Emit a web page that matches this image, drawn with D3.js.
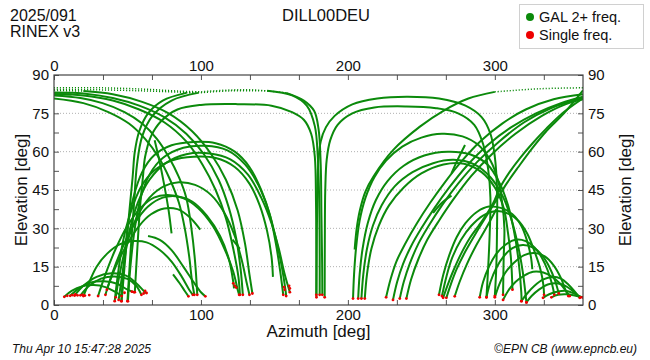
<!DOCTYPE html>
<html><head><meta charset="utf-8">
<script src="https://cdn.jsdelivr.net/npm/d3@7/dist/d3.min.js"></script>
<style>body{margin:0;background:#fff}text{font-family:"Liberation Sans",Arial,sans-serif;fill:#111}</style>
</head><body><svg id="c" width="650" height="360"></svg>
<script>
// ---- data: [azimuth deg, elevation deg] samples of each satellite pass ----
const azLabels = [0, 100, 200, 300];
const azMinorStep = 100 / 3;
const elLabels = [0, 15, 30, 45, 60, 75, 90];
const elMinorStep = 7.5;
const gridEl = [15, 30, 45, 60, 75];

const tracksEast = [
  [[0,85],[30,85],[60,84.5],[85,83.7],[100,83.4]],
  [[0,84.3],[30,84.2],[60,83.8],[85,83.3],[95,83.1]],
  [[46,1.5],[48,15],[51,35],[53.5,50],[55,60],[58,68],[64,75],[74,80],[90,83],[115,84],[135,84.2],[158,83],[170,80],[177,76],[180,69],[181.5,55],[182,35],[182.5,15],[182.6,4]],
  [[50,1.5],[52,20],[54.5,40],[56.5,55],[60,66],[67,74],[80,80],[98,83],[120,83.8],[145,83.8],[162,82],[172,78],[177.5,70],[179.5,58],[180.5,40],[180.8,20],[180.8,4]],
  [[55,5],[56.5,20],[58.5,38],[60.5,50],[62,58],[66,66],[73,72],[84,76.5],[100,78.3],[125,78.6],[148,78],[162,75.5],[170,72.5],[175,67],[177.5,58],[178.3,40],[178.5,20],[178.5,4]],
  [[0,83.2],[20,82.8],[40,81],[58,78],[75,73.5],[90,67],[102,59],[112,49],[119,38],[124,26],[127,14],[128.5,4]],
  [[0,82.6],[20,82],[40,80],[58,76.5],[75,71.5],[90,64],[101,55],[110,45],[117,34],[122,22],[125.5,11],[126.5,4]],
  [[0,84],[20,83.7],[40,82.5],[60,79.5],[78,75],[94,68],[107,59],[117,49],[125,37],[130,24],[133,12],[135,4.5]],
  [[0,82],[18,81],[33,79],[48,75.5],[60,71],[70,65],[78,58],[85,50],[90,42],[93.5,30],[96,17],[97.5,4]],
  [[0,82.2],[6,82.5],[12,82.4]],
  [[0,80.8],[20,79],[37,75.5],[51,71],[62,65],[71,58],[79,49],[85,40],[89,30],[92,19],[94,9],[95.5,4]],
  [[45.8,1.5],[47.5,15],[50,30],[54,42],[60,52],[68,58.5],[80,62.5],[95,63.8],[110,63.3],[123,60],[133,54],[141,45],[147,35],[151,24],[154,13],[156,4]],
  [[50.3,1.5],[52,15],[55,30],[59,42],[65,51],[74,57.5],[88,61.5],[103,62.3],[118,60.5],[130,55],[139,47],[146,37],[151,26],[155,15],[157.5,6],[158,3.5]],
  [[41.3,1.5],[43.5,12],[47,25],[52,36],[59,46],[68,52.5],[80,56.5],[95,58],[110,57.5],[123,54],[133,47.5],[140,39],[145,29],[148,19],[149,11]],
  [[44,2],[47,14],[51,28],[57,40],[65,49],[76,55.5],[90,59],[106,59.3],[120,57],[132,51],[141,42],[148,32],[153,22],[157,12],[160.5,5]],
  [[42,3],[45,13],[50,25],[57,35],[65,42],[75,46.5],[85,48],[96,47],[107,43],[116,36],[123,27],[128,17],[131,9],[133,4]],
  [[30,3.5],[35,12],[42,22],[50,31],[59,38],[68,42],[77,43],[87,42],[98,38],[108,31],[116,22],[122,13],[125,6],[126,4]],
  [[35,4],[40,13],[47,23],[55,32],[64,38.5],[74,42],[84,42.5],[94,40.5],[104,35],[113,27],[119,18],[122,9],[122.5,6.5]],
  [[36,6],[42,15],[50,24],[58,31],[66,35.5],[75,37.8],[84,37.5],[92,34.5],[99.5,29.5]],
  [[20,3.5],[24,9],[29,15],[36,20],[45,23.8],[54,25],[63,24.5],[72,21.5],[80,17],[87,11],[92,6],[94.5,4]],
  [[64,27],[72,25.5],[80,21.5],[88,15],[95,9],[100,5],[103,3.4]],
  [[81,12],[85.5,8.5],[89,5.5],[91.5,3.4]],
  [[68.5,64.5],[71.5,57],[75,47],[78,37],[80,28]],
  [[121.5,25.6],[124,23.8],[126.5,22]],
  [[7,3.2],[12,5.5],[19,7.3],[27,7.8],[35,7],[42,5],[46,3.5]],
  [[11,3.6],[17,6.5],[25,8.8],[34,9.3],[43,8.3],[50,6],[54.5,5]],
  [[14,3.7],[20,7.5],[29,11],[39,12.4],[49,11.5],[56,8.5],[62,5],[63,4.7]],
  [[18,3.8],[24,7.5],[32,10.3],[41,11.2],[50,10.2],[56,7.5],[59.5,4]]
];

const tracksWest = [
  [[178.6,3],[178.8,20],[179.1,40],[179.8,55],[181.5,64],[185,69.5],[191,74],[203,78.5],[220,80.8],[240,81.5],[262,80.8],[280,78],[291,73.5],[297,67],[300,58],[301.5,45],[301.5,30],[301,15],[300,3.5]],
  [[184.2,3],[184.3,25],[184.6,45],[185.6,57],[188,64.5],[193,70.5],[203,75],[218,77.3],[240,77.7],[260,77],[275,75],[286,70.5],[292,63],[295.5,53],[297,42],[296.5,28],[295.5,15],[294.3,3]],
  [[204.6,21.7],[206,30],[208.2,37.2],[212,44.5],[217.3,50.2],[230.9,60.7],[249,69.8],[265,76],[282,80.8],[300,83.4],[330,84.6],[360,85]],
  [[203.5,2.5],[204.2,12],[205.5,22],[208,33],[212,42],[218,50],[226,56.5],[237,62],[250,65.5],[264,67],[278,66],[289,62.5],[297,56.5],[302,49],[305,40],[306.5,30],[306,18],[305.6,4]],
  [[207,2.5],[208,12],[210,22],[213.5,32],[219,41],[227,48.5],[238,54.5],[252,58.5],[268,60],[283,59],[295,55],[303,48],[309,39],[313,29],[316,18],[318,5],[318.2,1.5]],
  [[209.2,2.5],[210.5,12],[213,22],[217,31],[223,39],[232,46.5],[244,52],[258,55.5],[272,56.8],[286,55],[297,50],[305,43],[311,34],[315.5,24],[319,13],[321.5,1]],
  [[211.5,2.5],[213,12],[216,22],[221,31],[228,39],[238,46],[250,51.5],[265,55],[279,55.3],[291,52],[300,46],[306,38],[309,28],[311,18],[312,6]],
  [[226,3],[229,10],[233,17],[239,24],[247,32],[256,40],[266,48],[277,56],[290,64],[305,71],[321,76.5],[340,80.5],[360,82.5]],
  [[230.7,2],[233.5,9],[237.5,16],[243,23],[250,30],[259,38],[269,46],[281,54.5],[295,62.5],[311,69.5],[328,75],[345,79],[360,81.5]],
  [[235.3,2.5],[238,9],[242,16],[248,24],[255,31],[264,39],[275,47.5],[288,56],[303,64],[320,71.5],[338,77],[360,81]],
  [[239.8,2.5],[243,10],[248,18],[254,25.5],[262,33],[272,41.5],[284,50.5],[298,59],[314,67],[332,74],[348,78.5],[360,80.5]],
  [[264.8,2.8],[268,8],[271.6,13.2],[277,20],[283,26.2],[289,31],[294.3,35.4],[299,40],[303.4,45.8],[310,52],[317,57.4],[326,63.5],[335,69],[347,75.5],[360,80.9]],
  [[267,2.8],[270,8],[274,14],[280,21],[287,28],[294,34.5],[301,41],[308,47.5],[316,54],[325,61],[335,68],[347,75],[360,84]],
  [[272.7,3.4],[276,9],[281,16],[287,23],[294,30],[301,37.5]],
  [[270.5,51.5],[274,56],[279.7,62.6]],
  [[258,36],[264,40],[270.5,42.8]],
  [[262,4],[265,12],[269,19.5],[274,26.5],[280,32],[288,36.5],[296,38.5],[304,38],[312,35.5],[318,31],[322,25],[324.5,19],[325.5,14]],
  [[264,3.5],[267,11],[271,18.5],[277,25.5],[284,31],[292,35],[300,36.7],[308,36],[316,33],[322,28],[327,21],[331,14],[333,8],[333.5,4]],
  [[289.7,3],[292,9],[296,15],[301,20],[307,23.5],[314,25.5],[321,25],[327,22.5],[332,18.5],[336,13.5],[339,8],[340.5,4]],
  [[294.3,3],[297,9],[301,14.5],[306,19],[312,22.3],[319,23.5],[326,22.5],[332,19.5],[337,15],[341,9.5],[343.5,4.5]],
  [[300,3],[303,8],[307,12.5],[313,16.5],[320,19.5],[327,20.3],[334,19],[340,15.5],[345,10.5],[348,6],[350,3.5]],
  [[305.6,2],[309,5.5],[314,9],[320,11.5],[326,13],[333,12.7],[339,11],[345,8],[349,5],[351,3.5]],
  [[318,1.5],[322,4.5],[327,7.5],[333,10],[339,11],[345,10.3],[350,8],[354,5.5],[357.8,2.8]],
  [[321.5,1],[325,3.5],[330,6],[336,8],[342,8.5],[348,7.5],[353,5.5],[357,3.5],[358.5,3]],
  [[332.8,2.8],[337,4.2],[343,5.3],[349,5.5],[354,4.5],[358,3.3],[360,3]],
  [[338.5,3],[343,4],[349,4.2],[355,3.6],[360,3]]
];

const redExtra = [[9,3.6],[12.5,3.9],[14.5,4.1],[16,3.8],[19.5,4],[21,3.7],[24,3.9],
  [122,8.5],[123,7.5],[124,6.8],[156.5,7],[157,6],[160,7.5],[160.5,6.5],[61,4.5],[62,5.5],[48,4.8],[53,5.2]];

const legendItems = [{label:"GAL 2+ freq.", color:"#0b8a0b"}, {label:"Single freq.", color:"#ee0000"}];

// ---- drawing ----
const svg = d3.select("#c");
const W = 650, H = 360;
const m = {l:54, r:583, t:75, b:305};
const x = d3.scaleLinear().domain([0,360]).range([m.l, m.r]);
const y = d3.scaleLinear().domain([0,90]).range([m.b, m.t]);
const green = "#0b8a0b", red = "#ee0000";

svg.append("rect").attr("width",W).attr("height",H).attr("fill","#fff");

// grid
svg.append("g").selectAll("line").data(gridEl).join("line")
  .attr("x1",m.l).attr("x2",m.r).attr("y1",d=>y(d)).attr("y2",d=>y(d))
  .attr("stroke","#b0b0b0").attr("stroke-width",1).attr("stroke-dasharray","1,2");

// axes (inward ticks)
const azTicks = d3.range(0, 360.01, azMinorStep).map(v => Math.round(v*1000)/1000);
const elTicks = d3.range(0, 90.01, elMinorStep);
const fmtAz = d => azLabels.some(l => Math.abs(l-d)<1e-6) ? d3.format("d")(d) : "";
const fmtEl = d => elLabels.includes(d) ? d3.format("d")(d) : "";

function styleAxis(g){
  g.select(".domain").remove();
  g.selectAll(".tick line").attr("stroke","#555");
  g.selectAll(".tick text").style("font-size","15px").attr("fill","#111")
    .style("font-family","'Liberation Sans',Arial,sans-serif");
}
svg.append("g").attr("transform",`translate(0,${m.b})`)
  .call(d3.axisBottom(x).tickValues(azTicks).tickSize(-5).tickPadding(4).tickFormat(fmtAz)).call(styleAxis);
svg.append("g").attr("transform",`translate(0,${m.t})`)
  .call(d3.axisTop(x).tickValues(azTicks).tickSize(-5).tickPadding(4).tickFormat(fmtAz)).call(styleAxis);
svg.append("g").attr("transform",`translate(${m.l},0)`)
  .call(d3.axisLeft(y).tickValues(elTicks).tickSize(-5).tickPadding(5).tickFormat(fmtEl)).call(styleAxis);
svg.append("g").attr("transform",`translate(${m.r},0)`)
  .call(d3.axisRight(y).tickValues(elTicks).tickSize(-5).tickPadding(5).tickFormat(fmtEl)).call(styleAxis);

// tracks
const clipId = "plotclip";
svg.append("clipPath").attr("id",clipId).append("rect")
  .attr("x",m.l).attr("y",m.t-2).attr("width",m.r-m.l).attr("height",m.b-m.t+4);
const line = d3.line().x(d=>x(d[0])).y(d=>y(d[1])).curve(d3.curveCatmullRom.alpha(0.5));
function runs(pts){
  const out=[]; let cur=null;
  for(let i=0;i<pts.length-1;i++){
    const dotted = pts[i][1]>=83 && pts[i+1][1]>=83;
    if(!cur || cur.dotted!==dotted){ cur={dotted, pts:[pts[i]]}; out.push(cur); }
    cur.pts.push(pts[i+1]);
  }
  return out;
}
const allTracks = tracksEast.concat(tracksWest);
const tg = svg.append("g").attr("clip-path",`url(#${clipId})`);
allTracks.forEach(t => {
  runs(t).forEach(r => {
    tg.append("path").attr("d",line(r.pts)).attr("fill","none")
      .attr("stroke",green)
      .attr("stroke-width", r.dotted ? 1.5 : 2)
      .attr("stroke-dasharray", r.dotted ? "1.1,1.9" : null)
      .attr("stroke-linecap","butt");
  });
});
// single-frequency points at low elevation ends
const redPts = [];
allTracks.forEach(t => {
  [t[0], t[t.length-1]].forEach(p => { if (p[1] <= 6) redPts.push(p); });
});
tg.append("g").selectAll("circle").data(redPts.concat(redExtra)).join("circle")
  .attr("cx",d=>x(d[0])).attr("cy",d=>y(d[1])).attr("r",1.4).attr("fill",red);

// frame
svg.append("rect").attr("x",m.l).attr("y",m.t).attr("width",m.r-m.l).attr("height",m.b-m.t)
  .attr("fill","none").attr("stroke","#444").attr("stroke-width",1.2);

// texts
svg.append("text").attr("x",10).attr("y",21).style("font-size","16px").text("2025/091");
svg.append("text").attr("x",10).attr("y",37).style("font-size","16px").text("RINEX v3");
svg.append("text").attr("x",326).attr("y",21).attr("text-anchor","middle").style("font-size","16.5px").text("DILL00DEU");
svg.append("text").attr("x",(m.l+m.r)/2).attr("y",337).attr("text-anchor","middle").style("font-size","17px").text("Azimuth [deg]");
svg.append("text").attr("transform",`translate(27,${(m.t+m.b)/2}) rotate(-90)`).attr("text-anchor","middle").style("font-size","17px").text("Elevation [deg]");
svg.append("text").attr("transform",`translate(631,${(m.t+m.b)/2}) rotate(-90)`).attr("text-anchor","middle").style("font-size","17px").text("Elevation [deg]");
svg.append("text").attr("x",12).attr("y",353).style("font-size","12px").style("font-style","italic").text("Thu Apr 10 15:47:28 2025");
svg.append("text").attr("x",637).attr("y",353).attr("text-anchor","end").style("font-size","12px").style("font-style","italic").text("©EPN CB (www.epncb.eu)");

// legend
const lg = svg.append("g");
lg.append("rect").attr("x",519.5).attr("y",4.5).attr("width",124).attr("height",44)
  .attr("fill","#fff").attr("stroke","#d0d0d0");
const li = lg.selectAll("g").data(legendItems).join("g")
  .attr("transform",(d,i)=>`translate(530,${17+i*18})`);
li.append("circle").attr("r",4).attr("fill",d=>d.color);
li.append("text").attr("x",9).attr("y",5).style("font-size","14.5px").text(d=>d.label);
</script></body></html>
